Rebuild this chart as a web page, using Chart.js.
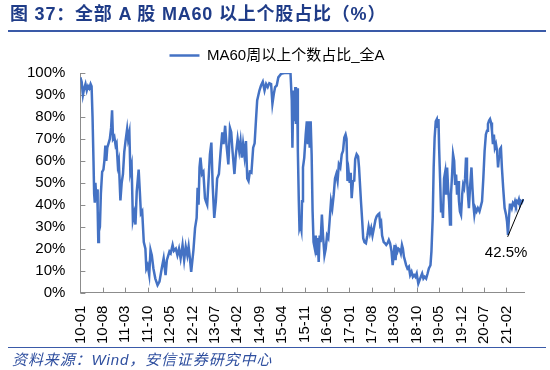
<!DOCTYPE html>
<html>
<head>
<meta charset="utf-8">
<script src="https://cdn.jsdelivr.net/npm/chart.js@4.4.1/dist/chart.umd.min.js"></script>
<style>
  html, body { margin: 0; padding: 0; background: #fff; }
  body { width: 550px; height: 370px; position: relative; overflow: hidden; }
  #title { position: absolute; left: 10px; top: 3px; font: bold 18px 'Liberation Sans', Arial, 'Noto Sans CJK SC', sans-serif; color: #1f3c88; line-height: 22px; white-space: nowrap; letter-spacing: 0.8px; }
  #rule1 { position: absolute; left: 8px; right: 4px; top: 30px; height: 2px; background: #3a5aa8; }
  #rule2 { position: absolute; left: 8px; right: 4px; top: 347px; height: 1px; background: #3a5aa8; }
  #source { position: absolute; left: 12px; top: 351px; font: italic 15px 'Liberation Sans', Arial, 'Noto Sans CJK SC', sans-serif; color: #2f4f9f; line-height: 18px; white-space: nowrap; letter-spacing: 0.9px; }
  canvas { position: absolute; left: 0; top: 0; }
</style>
</head>
<body>
<canvas id="c" width="550" height="370"></canvas>
<div id="title">图 37：全部 A 股 MA60 以上个股占比（%）</div>
<div id="rule1"></div>
<div id="rule2"></div>
<div id="source">资料来源：Wind，安信证券研究中心</div>
<script>
// months elapsed since 2010-01 (weekly series, sampled at turning points)
const monthOffset = [
  0,0.4,0.8,1.2,1.6,2.0,2.4,2.8,3.2,3.5,3.8,4.1,4.3,4.5,4.7,5.0,5.2,5.4,5.6,5.8,6.1,6.4,6.8,7.2,7.5,7.8,8.1,8.4,8.8,9.2,9.6,9.9,
  10.2,10.6,11.0,11.3,11.7,12.0,12.5,12.9,13.3,13.7,14.1,14.6,14.9,15.3,15.6,16.0,16.4,16.8,17.2,17.6,18.2,18.6,18.9,19.3,19.8,
  20.3,20.6,21.0,21.5,21.9,22.3,22.8,23.4,24.1,24.7,25.4,26.0,26.6,27.0,27.8,
  28.2,28.8,29.2,29.8,30.3,30.8,31.3,31.9,32.4,32.9,33.4,33.8,34.2,34.6,35.3,35.8,36.3,36.6,36.9,37.2,37.5,37.96,38.4,38.9,39.2,39.6,
  40.0,40.45,40.9,41.3,41.8,42.3,42.7,43.25,43.8,44.3,44.7,45.2,45.6,46.2,46.7,47.1,47.5,48.1,48.55,49.1,49.6,
  50.0,50.4,50.8,51.25,51.7,52.1,52.5,52.9,53.4,53.95,54.4,54.8,
  55.2,55.9,56.4,56.95,57.5,58.0,58.5,59.0,59.55,59.96,60.4,60.8,61.3,61.8,62.7,63.7,64.7,65.6,66.0,66.2,66.5,66.8,67.1,67.3,67.65,67.9,
  68.2,68.4,68.7,69.0,69.2,69.5,69.9,70.35,70.7,71.0,71.3,71.6,71.9,72.2,72.5,72.8,73.2,73.5,73.8,74.1,74.4,74.7,75.0,75.4,75.75,
  76.2,76.6,77.0,77.4,77.8,78.25,78.65,79.1,79.5,79.9,80.3,80.7,81.15,81.6,82.0,82.4,82.8,
  83.1,83.4,83.75,84.1,84.4,84.7,85.1,85.5,85.8,86.25,86.7,87.0,87.3,87.6,88.0,88.3,88.7,89.15,89.6,90.0,90.4,90.8,91.2,91.65,
  92.1,92.5,92.9,93.3,93.6,93.9,94.2,94.7,95.1,95.5,95.9,96.3,96.7,97.15,97.5,97.8,98.1,98.4,98.7,99.0,99.3,99.75,
  100.05,100.4,100.7,101.0,101.3,101.7,102.1,102.55,102.96,103.4,103.8,104.2,104.6,105.0,105.5,105.9,106.3,106.7,107.1,107.5,107.95,
  108.4,108.8,109.3,109.6,
  110.0,110.3,110.6,110.95,111.3,111.6,111.8,112.0,112.3,112.6,112.9,113.2,113.55,113.9,114.2,114.5,114.8,115.1,115.4,115.7,
  116.05,116.35,116.7,117.0,117.3,117.6,117.9,118.2,118.5,118.85,119.2,119.5,119.8,120.1,120.4,120.7,121.0,121.3,121.65,
  122.1,122.4,122.7,123.0,123.3,123.7,124.1,124.6,125.0,125.4,125.8,126.2,126.6,126.95,127.25,127.6,127.9,128.2,128.5,128.8,
  129.1,129.4,129.75,130.1,130.4,130.7,131.0,131.3,131.6,132.0,132.45,132.9,133.2,133.5,133.8,134.1,134.4,134.7,135.05,135.4,
  135.7,136.0,136.3,136.6,136.9,137.2,137.5,137.8,138.3
];
// share of A-share stocks above MA60, %
const pctAbove = [
  98,96,90,93,95,92,94,93,95,94,80,60,45,41,50,42,47,38,23,28,30,45,55,56,60,67,60,66,68,70,75,83,
  70,71,67,68,58,60,42,50,54,64,69,74.5,70,73,55,58,33,36,31,46,56,45,36,37,23,
  20,11,12.5,8,19.4,17,11,6.4,3.4,5,11,15.6,8,14.8,18.7,
  17.9,21.7,19,20,17,20,15.6,21.7,14.8,20.9,17,21,15.6,9.5,19.4,29.4,34,47.7,40,57,61.5,54,55,43,41.6,40,
  50.8,63,68.3,49,34,41.6,52,54,64.5,73,67.6,76,67.6,58.4,75,73,64.5,54,63,70,64.5,
  69,61.5,67.6,62,69,52,50.8,55,54.6,66,68,78,
  87.5,92,94.3,96,92,95,93.6,95.4,95,86,90.5,93.6,94.3,98,99.7,100,100,100,87.5,66,92,78,93.6,76.8,93,64.5,
  41.6,29.4,31,28.6,41.6,57,61.5,72,78,67.6,78,66,78,63,37,23,20,26,17,24.8,14,26,23,35.5,26,
  17,20,26,24.8,32.4,41.6,38.5,44.6,52,54,50.8,58.4,57,63,64.5,70.6,72,
  70,50.8,55,50,54.6,43,50.8,51,60.7,63,62,57,57,41.6,32.4,24.8,23,22.5,26,30,27,29.4,26,29.4,
  33,34.7,35.5,36,31,32,26,23,22.5,21.7,22.5,24,22.5,18.7,12.5,17,21.7,14.8,20,18.7,20,19.4,
  17.9,21.7,20,16.4,14.8,12.5,11,11.8,8,9.5,7.2,8,7.2,8.7,4.1,5.7,7.2,8.7,6.4,7.2,6.4,
  8.7,11,12.5,18.7,
  34,57,70.6,78,79,75,79,66,52,37,40,34,52,55,44.6,57,47.7,41.6,31,44.6,
  53.8,63,60,49,53.8,44.6,50.8,41.6,37,35.5,44.6,49,47.7,52,61.5,52,44.6,38.5,47.7,
  57,47.7,40,35.5,38.5,37,38.5,37,39.3,41.6,52,64.5,72,73.7,76.8,78.3,79,77.5,73.7,67.6,
  72,66,67.6,64.5,57,62,65.3,66,57,47.7,38.5,35.5,32.4,26.3,34,40,40,38.5,40.8,40,
  41.6,40,41.6,41,42.4,40,41.6,41,42.5
];
// x-axis tick labels, one every 7 months from 2010-01
const tickLabels = ['10-01','10-08','11-03','11-10','12-05','12-12','13-07','14-02','14-09','15-04',
  '15-11','16-06','17-01','17-08','18-03','18-10','19-05','19-12','20-07','21-02'];
const tickStepMonths = 7;
const yTicks = [0,10,20,30,40,50,60,70,80,90,100];
const seriesName = 'MA60周以上个数占比_全A';
const calloutText = '42.5%';

const FONT = "'Liberation Sans', Arial, 'Noto Sans CJK SC', sans-serif";
Chart.defaults.font.family = FONT;
Chart.defaults.color = '#000';

const innerTicks = {
  id: 'innerTicks',
  beforeDatasetsDraw(chart) {
    const {ctx, chartArea: a, scales: {x, y}} = chart;
    ctx.save();
    ctx.strokeStyle = '#8c8c8c';
    ctx.lineWidth = 1;
    ctx.beginPath();
    x.ticks.forEach(t => { const px = Math.round(x.getPixelForValue(t.value)) + 0.5; ctx.moveTo(px, a.bottom); ctx.lineTo(px, a.bottom - 5); });
    y.ticks.forEach(t => { const py = Math.round(y.getPixelForValue(t.value)) + 0.5; ctx.moveTo(a.left, py); ctx.lineTo(a.left + 5, py); });
    ctx.stroke();
    ctx.restore();
  }
};

const callout = {
  id: 'callout',
  afterDatasetsDraw(chart) {
    const {ctx, scales: {x, y}} = chart;
    const n = pctAbove.length - 1;
    const ex = x.getPixelForValue(monthOffset[n]), ey = y.getPixelForValue(pctAbove[n]);
    const sx = x.getPixelForValue(133.4), sy = y.getPixelForValue(25.4);
    ctx.save();
    ctx.strokeStyle = '#000';
    ctx.lineWidth = 1;
    ctx.beginPath(); ctx.moveTo(sx, sy); ctx.lineTo(ex, ey); ctx.stroke();
    ctx.font = '15px ' + FONT;
    ctx.fillStyle = '#000';
    ctx.textAlign = 'center'; ctx.textBaseline = 'middle';
    ctx.fillText(calloutText, x.getPixelForValue(132.9), y.getPixelForValue(18.3));
    ctx.restore();
  }
};

// centre the legend over the canvas rather than over the padded box
const legendShift = {
  id: 'legendShift',
  afterLayout(chart) {
    const lg = chart.legend;
    if (!lg) return;
    const d = (chart.width / 2 + 2) - (lg.left + lg.right) / 2;
    lg.left += d; lg.right += d;
    if (lg.legendHitBoxes) lg.legendHitBoxes.forEach(h => { h.left += d; });
  }
};

new Chart(document.getElementById('c'), {
  type: 'line',
  data: {
    datasets: [{
      label: seriesName,
      data: monthOffset.map((m, i) => ({x: m, y: pctAbove[i]})),
      borderColor: '#4472c4',
      backgroundColor: '#4472c4',
      borderWidth: 2.5,
      pointRadius: 0,
      tension: 0,
      fill: false
    }]
  },
  options: {
    responsive: false,
    animation: false,
    layout: { padding: { top: 47, left: 12, right: 26, bottom: 13 } },
    plugins: {
      legend: {
        position: 'top',
        labels: { usePointStyle: true, pointStyle: 'line', pointStyleWidth: 30, padding: 1, font: { size: 15 }, color: '#000' }
      },
      tooltip: { enabled: false }
    },
    scales: {
      x: {
        type: 'linear',
        min: 0,
        max: 138.5,
        grid: { display: false, drawTicks: false },
        border: { display: true, color: '#8c8c8c', width: 1 },
        afterBuildTicks: s => { s.ticks = tickLabels.map((_, i) => ({ value: i * tickStepMonths })); },
        ticks: {
          autoSkip: false,
          maxRotation: 90, minRotation: 90,
          padding: 13,
          font: { size: 15 },
          color: '#000',
          callback: v => tickLabels[Math.round(v / tickStepMonths)]
        }
      },
      y: {
        min: 0, max: 100,
        grid: { display: false, drawTicks: false },
        border: { display: true, color: '#8c8c8c', width: 1 },
        afterBuildTicks: s => { s.ticks = yTicks.map(v => ({ value: v })); },
        ticks: { autoSkip: false, padding: 15, font: { size: 15 }, color: '#000', callback: v => v + '%' }
      }
    }
  },
  plugins: [innerTicks, callout, legendShift]
});
</script>
</body>
</html>
